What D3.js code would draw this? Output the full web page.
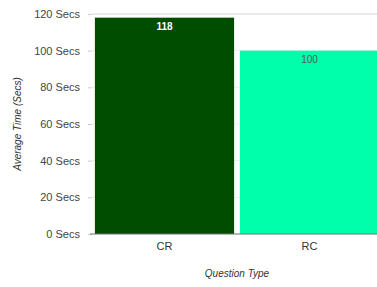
<!DOCTYPE html>
<html>
<head>
  <script src="https://cdnjs.cloudflare.com/ajax/libs/d3/7.0.0/d3.min.js"></script>
  <style>
    body { margin: 0; background: #fff; }
    text { font-family: "Liberation Sans", Arial, sans-serif; }
  </style>
</head>
<body>
  <div id="chart"></div>

  <script>
    var categories = ["CR", "RC"];
    var values = [118, 100];
    var colors = ["#004d00", "#00ffaa"];
    var labelColors = ["#ffffff", "#555555"];
    var yTicks = [0, 20, 40, 60, 80, 100, 120];

    var margin = { top: 14, right: -5, bottom: 53, left: 92 };
    var width = 377 - margin.left - margin.right;
    var height = 287 - margin.top - margin.bottom;

    var svg = d3.select("#chart")
      .append("svg")
      .attr("width", 377)
      .attr("height", 287)
      .append("g")
      .attr("transform", "translate(" + margin.left + "," + margin.top + ")");

    var x = d3.scaleBand().domain(categories).range([0, width]).paddingInner(0.04).paddingOuter(0.02);
    var y = d3.scaleLinear().domain([0, 120]).range([height, 0]);

    // gridlines
    svg.selectAll(".grid")
      .data(yTicks)
      .enter().append("line")
      .attr("x1", 0)
      .attr("x2", width)
      .attr("y1", d => y(d))
      .attr("y2", d => y(d))
      .attr("stroke", d => d === 120 ? "#d8d4dc" : "#eeeeee")
      .attr("stroke-width", 1);

    // y axis
    var yAxis = svg.append("g")
      .call(d3.axisLeft(y).tickValues(yTicks).tickSize(4).tickPadding(8).tickFormat(d => d + " Secs"));
    yAxis.select(".domain").remove();
    yAxis.selectAll(".tick line").attr("stroke", "#cccccc");
    yAxis.selectAll("text").attr("fill", "#444").style("font-size", "11px");

    svg.selectAll("rect")
      .data(values)
      .enter().append("rect")
      .attr("x", (d, i) => x(categories[i]))
      .attr("y", d => y(d))
      .attr("width", x.bandwidth())
      .attr("height", d => height - y(d))
      .attr("fill", (d, i) => colors[i]);

    svg.selectAll(".lbl")
      .data(values)
      .enter().append("text")
      .attr("x", (d, i) => x(categories[i]) + x.bandwidth() / 2)
      .attr("y", d => y(d) + 12)
      .attr("text-anchor", "middle")
      .attr("fill", (d, i) => labelColors[i])
      .style("font-size", "10px")
      .style("font-weight", (d, i) => i === 0 ? "bold" : "normal")
      .text(d => d);

    // x axis
    var xAxis = svg.append("g")
      .attr("transform", "translate(0," + height + ")")
      .call(d3.axisBottom(x).tickSize(0).tickPadding(8));
    xAxis.select(".domain").attr("stroke", "#777").attr("d", "M-2,0H" + width);
    xAxis.selectAll("text").attr("fill", "#333").style("font-size", "11px");

    svg.append("text")
      .attr("transform", "rotate(-90)")
      .attr("x", -height / 2)
      .attr("y", -margin.left + 21)
      .attr("text-anchor", "middle")
      .attr("fill", "#333")
      .style("font-size", "10px")
      .style("font-style", "italic")
      .text("Average Time (Secs)");

    svg.append("text")
      .attr("x", 237 - margin.left)
      .attr("y", 277 - margin.top)
      .attr("text-anchor", "middle")
      .attr("fill", "#333")
      .style("font-size", "10px")
      .style("font-style", "italic")
      .text("Question Type");
  </script>
</body>
</html>
